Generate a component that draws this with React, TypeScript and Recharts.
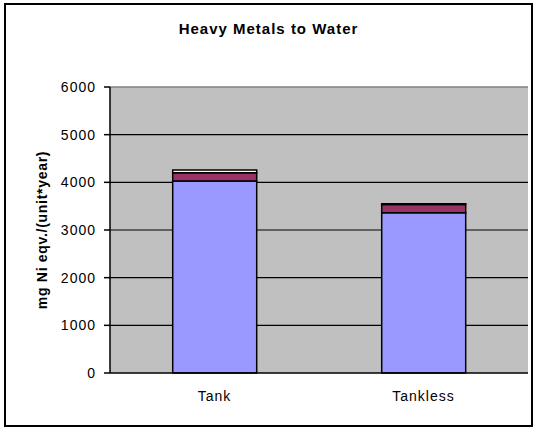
import { Bar, BarChart, CartesianGrid, ReferenceLine, XAxis, YAxis } from 'recharts'

const categories = ['Tank', 'Tankless']
const series1 = [4030, 3360]
const series2 = [170, 175]
const series3 = [60, 15]
const yTicks = [0, 1000, 2000, 3000, 4000, 5000, 6000]
const yMax = 6000

const data = categories.map((name, i) => ({
  name,
  s1: series1[i],
  s2: series2[i],
  s3: series3[i],
}))

const font = '"Liberation Sans", Arial, sans-serif'
const tickStyle = { fill: '#000', fontSize: 14, fontFamily: font, letterSpacing: 1 }

export default function App() {
  return (
    <div style={{ position: 'absolute', left: 0, top: 0, width: 537, height: 429, background: '#fff', fontFamily: font }}>
      <div
        style={{
          position: 'absolute',
          left: 0,
          top: 20,
          width: 537,
          textAlign: 'center',
          fontWeight: 'bold',
          fontSize: 15,
          letterSpacing: 1,
          color: '#000',
        }}
      >
        Heavy Metals to Water
      </div>
      <BarChart
        width={537}
        height={429}
        data={data}
        margin={{ top: 87, right: 9, left: 30, bottom: 27 }}
        barCategoryGap="30%"
      >
        <CartesianGrid
          vertical={false}
          fill="#c0c0c0"
          stroke="#000"
          strokeWidth={1.2}
          fillOpacity={1}
          horizontalCoordinatesGenerator={({ offset }: any) =>
            yTicks
              .filter((v) => v > 0 && v < yMax)
              .map((v) => offset.top + offset.height * (1 - v / yMax))
          }
        />
        <XAxis
          type="number"
          domain={[0, 2]}
          ticks={[0, 1, 2]}
          interval={0}
          tick={() => <g />}
          height={0}
          tickSize={6}
          axisLine={false}
          tickLine={{ stroke: '#000', strokeWidth: 1.5 }}
        />
        <XAxis
          xAxisId="cat"
          dataKey="name"
          height={29}
          tickLine={false}
          axisLine={{ stroke: '#000', strokeWidth: 1.5 }}
          tick={tickStyle}
          tickMargin={12}
        />
        <YAxis
          width={80}
          domain={[0, yMax]}
          ticks={yTicks}
          interval={0}
          tickSize={6}
          tickMargin={8}
          axisLine={{ stroke: '#000', strokeWidth: 1.5 }}
          tickLine={{ stroke: '#000', strokeWidth: 1.5 }}
          tick={tickStyle}
          label={{
            value: 'mg Ni eqv./(unit*year)',
            angle: -90,
            position: 'insideLeft',
            offset: 12,
            style: { textAnchor: 'middle', fontWeight: 'bold', fontSize: 14, letterSpacing: 0.7, fill: '#000', fontFamily: font },
          }}
        />
        <ReferenceLine y={yMax} stroke="#808080" strokeWidth={1.5} />
        <ReferenceLine x={2} stroke="#808080" strokeWidth={1.5} />
        <Bar xAxisId="cat" dataKey="s1" name="Series 1" stackId="a" fill="#9999ff" stroke="#000" strokeWidth={1.5} isAnimationActive={false} />
        <Bar xAxisId="cat" dataKey="s2" name="Series 2" stackId="a" fill="#993366" stroke="#000" strokeWidth={1.5} isAnimationActive={false} />
        <Bar xAxisId="cat" dataKey="s3" name="Series 3" stackId="a" fill="#ffffcc" stroke="#000" strokeWidth={1.5} isAnimationActive={false} />
      </BarChart>
      <div
        style={{
          position: 'absolute',
          left: 4,
          top: 3,
          width: 529,
          height: 424,
          border: '2px solid #000',
          boxSizing: 'border-box',
          pointerEvents: 'none',
        }}
      />
    </div>
  )
}
